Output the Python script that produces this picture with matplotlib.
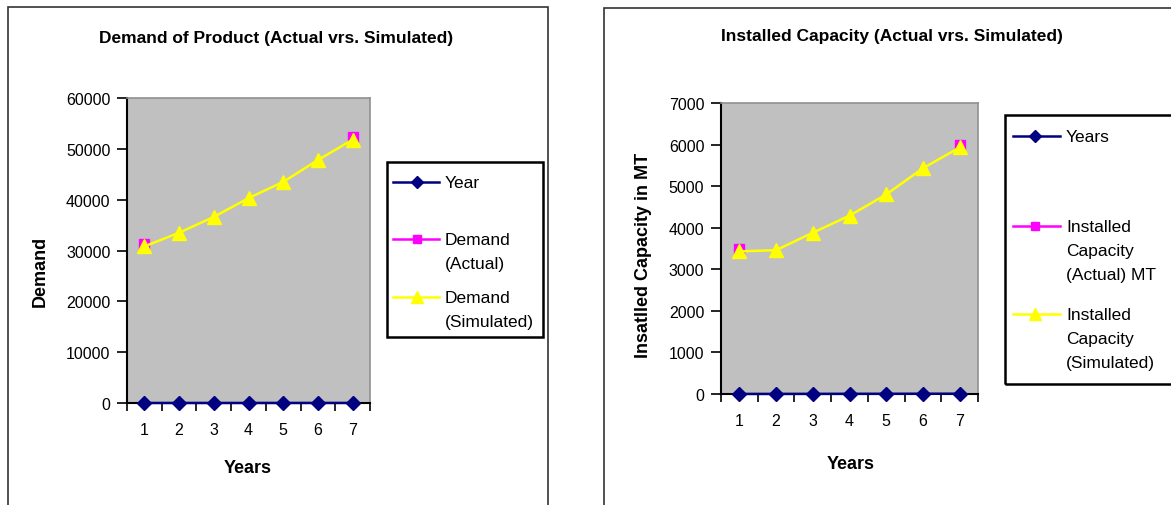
import numpy as np
import matplotlib
matplotlib.use("Agg")
import matplotlib.pyplot as plt
from matplotlib.patches import Rectangle
from matplotlib.lines import Line2D

plt.rcParams["font.family"] = ["Liberation Sans", "DejaVu Sans"]

# data
years = [1, 2, 3, 4, 5, 6, 7]
year_series = [1, 2, 3, 4, 5, 6, 7]
demand_actual = [31200, None, None, None, None, None, 52400]
demand_sim = [30800, 33500, 36600, 40300, 43500, 47800, 51800]
cap_actual = [3500, None, None, None, None, None, 6000]
cap_sim = [3430, 3460, 3880, 4290, 4800, 5430, 5930]

W, H = 1171, 506
fig = plt.figure(figsize=(W / 100, H / 100), dpi=100)

NAVY, MAGENTA, YELLOW = "#000080", "#FF00FF", "#FFFF00"
styles = [
    dict(color=NAVY, marker="D", ms=7),
    dict(color=MAGENTA, marker="s", ms=7),
    dict(color=YELLOW, marker="^", ms=10),
]


def fx(x):
    return x / W


def fy(y):
    return 1 - y / H


def to_float(vals):
    return np.array([np.nan if v is None else v for v in vals], dtype=float)


def draw_chart(box, title, title_xy, ylabel, ylabel_xy, xlabel_xy, ymax, ystep, series):
    x0, y0, x1, y1 = box
    ax = fig.add_axes([fx(x0), fy(y1), fx(x1 - x0), (y1 - y0) / H])
    ax.set_facecolor("#C0C0C0")
    for vals, st in zip(series, styles):
        ax.plot(years, to_float(vals), color=st["color"], lw=1.8, marker=st["marker"],
                ms=st["ms"], mec=st["color"], mfc=st["color"], clip_on=False, zorder=3)
    ax.set_xlim(0.5, 7.5)
    ax.set_ylim(0, ymax)
    ax.set_yticks(np.arange(0, ymax + 1, ystep))
    ax.tick_params(axis="y", direction="out", length=7, width=1.2, labelsize=11.5, pad=5)
    ax.set_xticks(np.arange(0.5, 8, 1))
    ax.set_xticklabels([])
    ax.tick_params(axis="x", which="major", direction="out", length=6, width=1.2)
    ax.set_xticks(years, minor=True)
    ax.set_xticklabels([str(y) for y in years], minor=True)
    ax.tick_params(axis="x", which="minor", length=0, labelsize=11.5, pad=14)
    for s in ("left", "bottom"):
        ax.spines[s].set_color("black")
        ax.spines[s].set_linewidth(1.5)
    for s in ("top", "right"):
        ax.spines[s].set_color("#909090")
        ax.spines[s].set_linewidth(1.2)
    fig.text(fx(title_xy[0]), fy(title_xy[1]), title, ha="center", va="center",
             fontsize=12.5, fontweight="bold")
    fig.text(fx(ylabel_xy[0]), fy(ylabel_xy[1]), ylabel, ha="center", va="center",
             rotation=90, fontsize=13, fontweight="bold")
    fig.text(fx(xlabel_xy[0]), fy(xlabel_xy[1]), "Years", ha="center", va="center",
             fontsize=13, fontweight="bold")
    return ax


def draw_legend(box, line_x, text_x, entries):
    x0, y0, x1, y1 = box
    fig.patches.append(Rectangle((fx(x0), fy(y1)), fx(x1 - x0), (y1 - y0) / H,
                                 transform=fig.transFigure, fill=False,
                                 edgecolor="black", lw=1.8))
    for (label, ty), st in zip(entries, styles):
        fig.lines.append(Line2D([fx(line_x[0]), fx(line_x[1])], [fy(ty), fy(ty)],
                                transform=fig.transFigure, color=st["color"], lw=1.8))
        fig.lines.append(Line2D([fx(line_x[2])], [fy(ty)], transform=fig.transFigure,
                                color=st["color"], marker=st["marker"], ms=st["ms"] - 1))
        fig.text(fx(text_x), fy(ty - 7), label, ha="left", va="top", fontsize=12.5,
                 linespacing=1.75)


# outer frames
fig.patches.append(Rectangle((fx(8), fy(560)), fx(540), 552 / H, transform=fig.transFigure,
                             fill=False, edgecolor="#333333", lw=1.2))
fig.patches.append(Rectangle((fx(604), fy(560)), fx(620), 551 / H, transform=fig.transFigure,
                             fill=False, edgecolor="#333333", lw=1.2))

draw_chart((127, 99, 370, 404), "Demand of Product (Actual vrs. Simulated)", (276, 38),
           "Demand", (40, 271), (248, 469), 60000, 10000,
           [year_series, demand_actual, demand_sim])
draw_legend((387, 163, 543, 338), (393, 439, 417), 445,
            [("Year", 183), ("Demand\n(Actual)", 240), ("Demand\n(Simulated)", 298)])

draw_chart((721, 104, 978, 395), "Installed Capacity (Actual vrs. Simulated)", (892, 37),
           "Insatlled Capacity in MT", (643, 255), (851, 465), 7000, 1000,
           [year_series, cap_actual, cap_sim])
draw_legend((1005, 116, 1190, 385), (1013, 1060, 1035), 1066,
            [("Years", 137), ("Installed\nCapacity\n(Actual) MT", 227),
             ("Installed\nCapacity\n(Simulated)", 315)])

fig.savefig("out.png", dpi=100)
